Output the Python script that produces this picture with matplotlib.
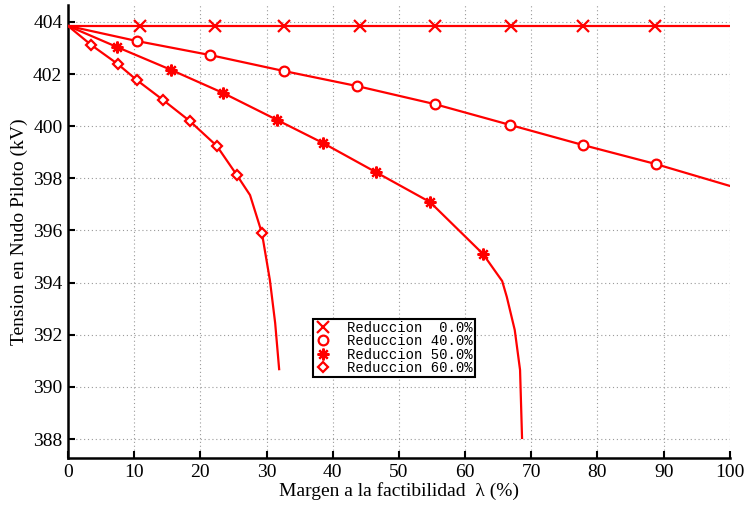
#!/usr/bin/env python3
'''
Tension en nudo piloto frente al margen a la factibilidad
'''

import matplotlib
matplotlib.use('Agg')
import matplotlib.pyplot as plt
from matplotlib.lines import Line2D


V0 = 403.85

# Reduccion 0.0 %
lam_00 = [0, 10.9, 22.2, 32.6, 44.1, 55.4, 66.9, 77.8, 88.7, 100]
v_00 = [V0, V0, V0, V0, V0, V0, V0, V0, V0, V0]
mk_00 = [1, 2, 3, 4, 5, 6, 7, 8]

# Reduccion 40.0 %
lam_40 = [0, 10.4, 21.5, 32.6, 43.7, 55.4, 66.8, 77.8, 88.8, 100]
v_40 = [V0, 403.27, 402.73, 402.12, 401.54, 400.85, 400.05, 399.28, 398.55, 397.71]
mk_40 = [1, 2, 3, 4, 5, 6, 7, 8]

# Reduccion 50.0 %
lam_50 = [0, 7.4, 15.6, 23.4, 31.6, 38.5, 46.5, 54.7, 62.7, 65.6, 66.3, 67.5, 68.3, 68.6]
v_50 = [V0, 403.04, 402.16, 401.28, 400.24, 399.36, 398.24, 397.09, 395.10,
        394.06, 393.45, 392.18, 390.65, 388.04]
mk_50 = [1, 2, 3, 4, 5, 6, 7, 8]

# Reduccion 60.0 %
lam_60 = [0, 3.5, 7.5, 10.4, 14.4, 18.4, 22.5, 25.5, 27.5, 29.3, 30.5, 31.3, 31.9]
v_60 = [V0, 403.12, 402.39, 401.77, 401.00, 400.20, 399.24, 398.13, 397.36,
        395.90, 394.10, 392.45, 390.68]
mk_60 = [1, 2, 3, 4, 5, 6, 7, 9]

labels = ['Reduccion  0.0%', 'Reduccion 40.0%', 'Reduccion 50.0%', 'Reduccion 60.0%']
# asterisco de 8 brazos como el '*' de MATLAB
markers = ['x', 'o', (8, 2, 0), 'D']
msizes = [8.5, 7, 8.5, 5.5]
filled = [True, False, True, False]


def run():
    plt.rcParams['font.family'] = 'Liberation Serif'
    fig = plt.figure(figsize=(7.44, 5.05), dpi=100)
    ax = fig.add_axes([0.0914, 0.093, 0.8896, 0.897])

    series = [(lam_00, v_00, mk_00), (lam_40, v_40, mk_40),
              (lam_50, v_50, mk_50), (lam_60, v_60, mk_60)]
    handles = []
    for (lam, v, mk), m, ms, f, lab in zip(series, markers, msizes, filled, labels):
        ax.plot(lam, v, '-', color='red', lw=1.6, zorder=3)
        ax.plot([lam[i] for i in mk], [v[i] for i in mk], linestyle='none',
                marker=m, ms=ms, mec='red', mfc='red' if f else 'white',
                mew=1.6, zorder=4)
        handles.append(Line2D([], [], linestyle='none', marker=m, ms=ms,
                              mec='red', mfc='red' if f else 'white',
                              mew=1.6, label=lab))

    ax.set_xlim(0, 100)
    ax.set_ylim(387.27, 404.65)
    ax.set_xticks(range(0, 101, 10))
    ax.set_yticks(range(388, 405, 2))
    ax.grid(True, linestyle=(0, (1, 2.5)), color='#9a9a9a', lw=0.8)
    ax.set_axisbelow(True)

    for s in ['top', 'right']:
        ax.spines[s].set_visible(False)
    for s in ['left', 'bottom']:
        ax.spines[s].set_linewidth(1.8)
    ax.tick_params(direction='in', length=5, width=1.5, labelsize=14, pad=4)

    ax.set_xlabel(u'Margen a la factibilidad  \u03bb (%)', fontsize=14, labelpad=1)
    ax.set_ylabel('Tension en Nudo Piloto (kV)', fontsize=14, labelpad=4)

    leg = ax.legend(handles=handles, loc='upper left', bbox_to_anchor=(0.37, 0.307),
                    prop={'family': 'Liberation Mono', 'size': 10},
                    fancybox=False, framealpha=1, edgecolor='black',
                    borderpad=0.15, labelspacing=-0.05, handlelength=1.2,
                    handletextpad=1.1, borderaxespad=0)
    leg.get_frame().set_linewidth(1.5)

    fig.savefig('out.png', dpi=100)


if __name__ == '__main__':
    run()
